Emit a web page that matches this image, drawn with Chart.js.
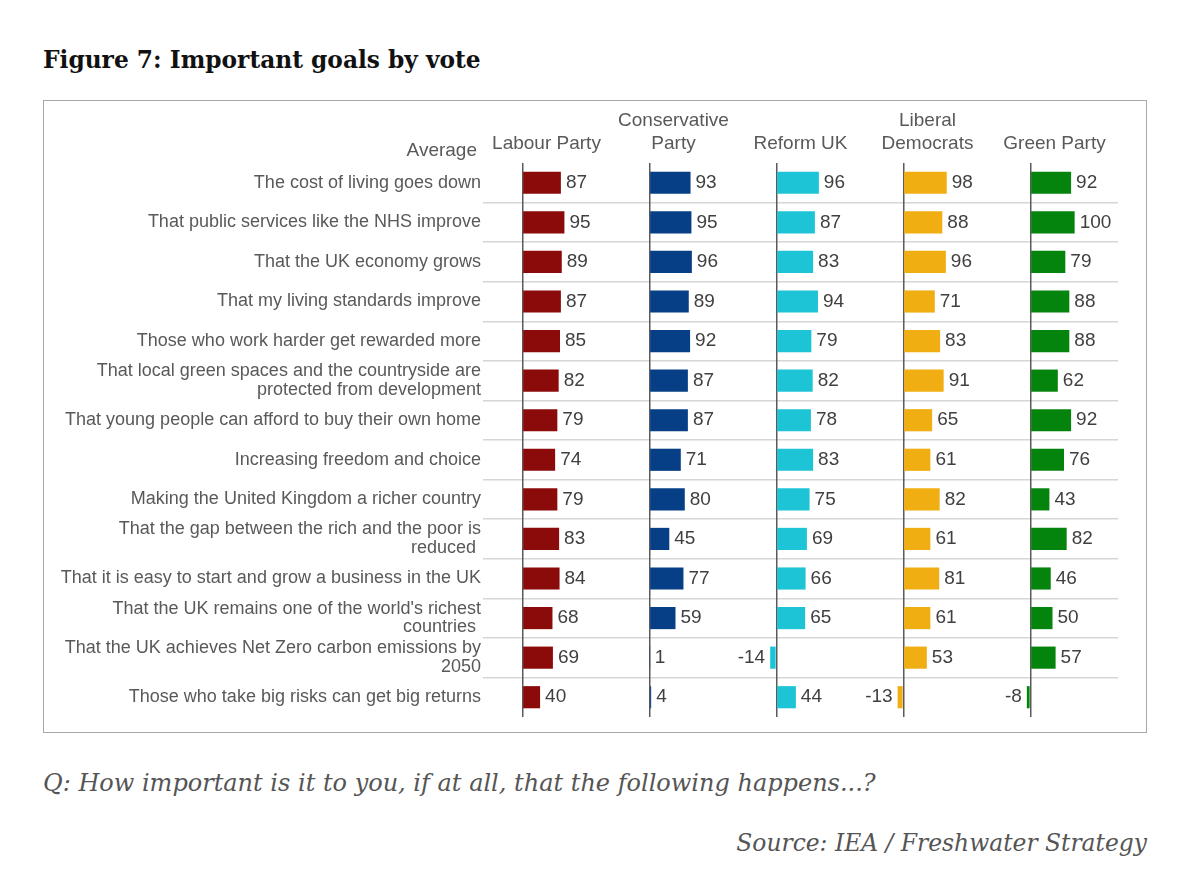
<!DOCTYPE html>
<html>
<head>
<meta charset="utf-8">
<script src="https://cdn.jsdelivr.net/npm/chart.js@4.4.1/dist/chart.umd.min.js"></script>
<style>
  body { margin: 0; background: #fff; width: 1200px; height: 891px; position: relative; overflow: hidden; }
  #title { position: absolute; left: 43px; top: 46px; font: bold 23.3px "DejaVu Serif", serif; color: #111; }
  #box { position: absolute; left: 43px; top: 100px; width: 1104px; height: 633px; border: 1px solid #a8a8a8; box-sizing: border-box; }
  #wrap { position: relative; width: 1102px; height: 631px; }
  #question { position: absolute; left: 43px; top: 769px; font: italic 24px "DejaVu Serif", serif; color: #555; }
  #source { position: absolute; right: 53px; top: 829px; font: italic 23.4px "DejaVu Serif", serif; color: #555; }
</style>
</head>
<body>
<div id="title">Figure 7: Important goals by vote</div>
<div id="box"><div id="wrap"><canvas id="goalsChart"></canvas></div></div>
<div id="question">Q: How important is it to you, if at all, that the following happens...?</div>
<div id="source">Source: IEA / Freshwater Strategy</div>
<script>
const goals = [
    'The cost of living goes down',
    'That public services like the NHS improve',
    'That the UK economy grows',
    'That my living standards improve',
    'Those who work harder get rewarded more',
    ['That local green spaces and the countryside are', 'protected from development'],
    'That young people can afford to buy their own home',
    'Increasing freedom and choice',
    'Making the United Kingdom a richer country',
    ['That the gap between the rich and the poor is', 'reduced '],
    'That it is easy to start and grow a business in the UK',
    ['That the UK remains one of the world\'s richest', 'countries '],
    ['That the UK achieves Net Zero carbon emissions by', '2050'],
    'Those who take big risks can get big returns'
];
const partyHeaders = [
    ['', 'Labour Party'],
    ['Conservative', 'Party'],
    ['', 'Reform UK'],
    ['Liberal', 'Democrats'],
    ['', 'Green Party']
];
const labour = [87, 95, 89, 87, 85, 82, 79, 74, 79, 83, 84, 68, 69, 40];
const conservative = [93, 95, 96, 89, 92, 87, 87, 71, 80, 45, 77, 59, 1, 4];
const reform = [96, 87, 83, 94, 79, 82, 78, 83, 75, 69, 66, 65, -14, 44];
const libDems = [98, 88, 96, 71, 83, 91, 65, 61, 82, 61, 81, 61, 53, -13];
const green = [92, 100, 79, 88, 88, 62, 92, 76, 43, 82, 46, 50, 57, -8];
const partyColours = ['#8b0a0a', '#063f86', '#1cc4d6', '#f0ae12', '#04840c'];

function initGoalsChart() {
    const FONT = '"Liberation Sans", Arial, sans-serif';
    const series = [labour, conservative, reform, libDems, green];

    const datasets = series.map((vals, i) => ({
        label: partyHeaders[i].join(' ').trim(),
        data: vals,
        xAxisID: 'x' + i,
        backgroundColor: partyColours[i],
        borderWidth: 0,
        grouped: false,
        categoryPercentage: 1,
        barPercentage: 0.56
    }));

    const scales = {
        y: {
            type: 'category',
            offset: true,
            afterFit: (axis) => { axis.width = 439; },
            grid: {
                offset: true,
                drawTicks: false,
                lineWidth: 1.5,
                color: (c) => (c.type !== 'tick' || c.index === 0) ? 'rgba(0,0,0,0)' : '#d6d6d6'
            },
            border: { display: false },
            ticks: {
                color: '#595959',
                padding: 2,
                autoSkip: false,
                font: { family: FONT, size: 18, lineHeight: 1.05 }
            }
        }
    };
    // top stacked axes are laid out last-first, so add them in reverse
    for (let i = partyHeaders.length - 1; i >= 0; i--) {
        scales['x' + i] = {
            type: 'linear',
            position: 'top',
            stack: 'parties',
            min: -89,
            max: 198,
            afterBuildTicks: (axis) => { axis.ticks = [{ value: 0 }]; },
            ticks: { display: false },
            grid: { drawTicks: false, color: '#5a5a5a', lineWidth: 1.5 },
            border: { display: false },
            title: {
                display: true,
                text: partyHeaders[i],
                color: '#595959',
                font: { family: FONT, size: 19, lineHeight: '23px' },
                padding: { top: 0, bottom: 8 }
            }
        };
    }

    const valueLabels = {
        id: 'valueLabels',
        afterDatasetsDraw(chart) {
            const ctx = chart.ctx;
            ctx.save();
            ctx.font = '19px ' + FONT;
            ctx.fillStyle = '#404040';
            ctx.textBaseline = 'middle';
            chart.data.datasets.forEach((ds, di) => {
                const meta = chart.getDatasetMeta(di);
                meta.data.forEach((bar, i) => {
                    const v = ds.data[i];
                    if (v >= 0) {
                        ctx.textAlign = 'left';
                        ctx.fillText(String(v), bar.x + 5, bar.y);
                    } else {
                        ctx.textAlign = 'right';
                        ctx.fillText(String(v), bar.x - 5, bar.y);
                    }
                });
            });
            // column heading for the goal labels
            ctx.fillStyle = '#595959';
            ctx.textAlign = 'right';
            ctx.fillText('Average', chart.chartArea.left - 6, chart.chartArea.top - 12);
            ctx.restore();
        }
    };

    new Chart(document.getElementById('goalsChart'), {
        type: 'bar',
        data: { labels: goals, datasets: datasets },
        options: {
            indexAxis: 'y',
            responsive: true,
            maintainAspectRatio: false,
            animation: false,
            layout: { padding: { left: 0, right: 28, top: 8, bottom: 15 } },
            scales: scales,
            plugins: {
                legend: { display: false },
                tooltip: { enabled: false }
            }
        },
        plugins: [valueLabels]
    });
}

if (typeof Chart !== 'undefined') {
    initGoalsChart();
} else {
    window.addEventListener('load', initGoalsChart);
}
</script>
</body>
</html>
